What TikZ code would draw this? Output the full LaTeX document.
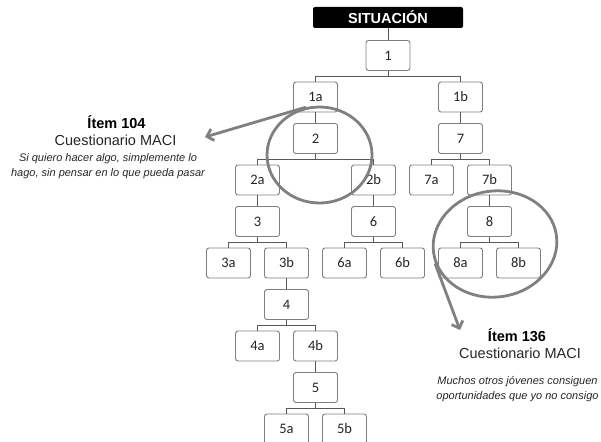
\documentclass[tikz,border=0pt]{standalone}
\usepackage{fontspec}
\setmainfont{Liberation Sans}
\newfontfamily\boxfont{Carlito}
\usetikzlibrary{arrows.meta,shapes.geometric}
\definecolor{boxgray}{HTML}{7F7F7F}
\definecolor{linegray}{HTML}{595959}
\definecolor{ringgray}{HTML}{808080}
\definecolor{labelgray}{HTML}{262626}
\begin{document}
\begin{tikzpicture}[x=1pt,y=1pt,
  nbox/.style={draw=boxgray, line width=0.9pt, fill=white, rounded corners=2.5pt,
    minimum width=44pt, minimum height=30pt, inner sep=0pt,
    font=\boxfont\fontsize{14.5}{14.5}\selectfont, text=labelgray},
  conn/.style={draw=linegray, line width=0.9pt},
  ring/.style={ellipse, draw=ringgray, line width=2.8pt, inner sep=0pt},
  pointer/.style={draw=ringgray, line width=2.8pt, -{Straight Barb[length=6pt,width=12pt]}},
  head/.style={font=\bfseries\fontsize{14.5}{14.5}\selectfont, text=black, inner sep=0pt},
  sub/.style={font=\fontsize{14.5}{14.5}\selectfont, text=labelgray, inner sep=0pt},
  quote/.style={font=\itshape\fontsize{11}{15}\selectfont, text=labelgray, align=center, inner sep=0pt}
]
\useasboundingbox (0,0) rectangle (601,-441);
\begin{scope}
\clip (0,0) rectangle (601,-441);
% title
\node[fill=black, rounded corners=2pt, minimum width=150pt, minimum height=21pt, inner sep=0pt,
  text=white, font=\bfseries\fontsize{14.5}{14.5}\selectfont] (sit) at (388,-17.5) {SITUACIÓN};
% boxes
\node[nbox] (n1) at (388,-55.5) {1};
\node[nbox] (n1a) at (315.5,-97) {1a};
\node[nbox] (n1b) at (460.5,-97) {1b};
\node[nbox] (n2) at (315.5,-138.5) {2};
\node[nbox] (n7) at (460.5,-138.5) {7};
\node[nbox] (n2a) at (257.5,-180) {2a};
\node[nbox] (n2b) at (373.5,-180) {2b};
\node[nbox] (n7a) at (431.5,-180) {7a};
\node[nbox] (n7b) at (489.5,-180) {7b};
\node[nbox] (n3) at (257.5,-221.5) {3};
\node[nbox] (n6) at (373.5,-221.5) {6};
\node[nbox] (n8) at (489.5,-221.5) {8};
\node[nbox] (n3a) at (228.5,-263) {3a};
\node[nbox] (n3b) at (286.5,-263) {3b};
\node[nbox] (n6a) at (344.5,-263) {6a};
\node[nbox] (n6b) at (402.5,-263) {6b};
\node[nbox] (n8a) at (460.5,-263) {8a};
\node[nbox] (n8b) at (518.5,-263) {8b};
\node[nbox] (n4) at (286.5,-304.5) {4};
\node[nbox] (n4a) at (257.5,-346) {4a};
\node[nbox] (n4b) at (315.5,-346) {4b};
\node[nbox] (n5) at (315.5,-387.5) {5};
\node[nbox] (n5a) at (286.5,-429) {5a};
\node[nbox] (n5b) at (344.5,-429) {5b};
% connectors
\draw[conn] (sit.south) -- (n1.north);
\foreach \p/\a/\b in {n1/n1a/n1b, n2/n2a/n2b, n7/n7a/n7b, n3/n3a/n3b, n6/n6a/n6b, n8/n8a/n8b, n4/n4a/n4b, n5/n5a/n5b}{
  \draw[conn] (\p.south) -- ++(0,-5.75) -| (\a.north);
  \draw[conn] (\p.south) -- ++(0,-5.75) -| (\b.north);
}
\foreach \p/\c in {n1a/n2, n1b/n7, n2a/n3, n2b/n6, n7b/n8, n3b/n4, n4b/n5}{
  \draw[conn] (\p.south) -- (\c.north);
}
% texts
\node[head] (t1) at (116.5,-122) {Ítem 104};
\node[sub] (c1) at (115.5,-140) {Cuestionario MACI};
\node[quote] (q1) at (108,-166.5) {Si quiero hacer algo, simplemente lo\\hago, sin pensar en lo que pueda pasar};
\node[head] (t2) at (517,-335) {Ítem 136};
\node[sub] (c2) at (520,-353) {Cuestionario MACI};
\node[quote] (q2) at (517.5,-389) {Muchos otros jóvenes consiguen\\oportunidades que yo no consigo};
% rings and arrows
\node[ring, minimum width=105pt, minimum height=96pt] (r1) at (319.5,-155) {};
\node[ring, minimum width=124pt, minimum height=106pt, rotate=8] (r2) at (495,-244) {};
\coordinate (e1) at (205,-137);
\coordinate (e2) at (460,-330);
\draw[pointer] (r1.106) -- (e1);
\draw[pointer] (r2.190) -- (e2);
\end{scope}
\end{tikzpicture}
\end{document}
